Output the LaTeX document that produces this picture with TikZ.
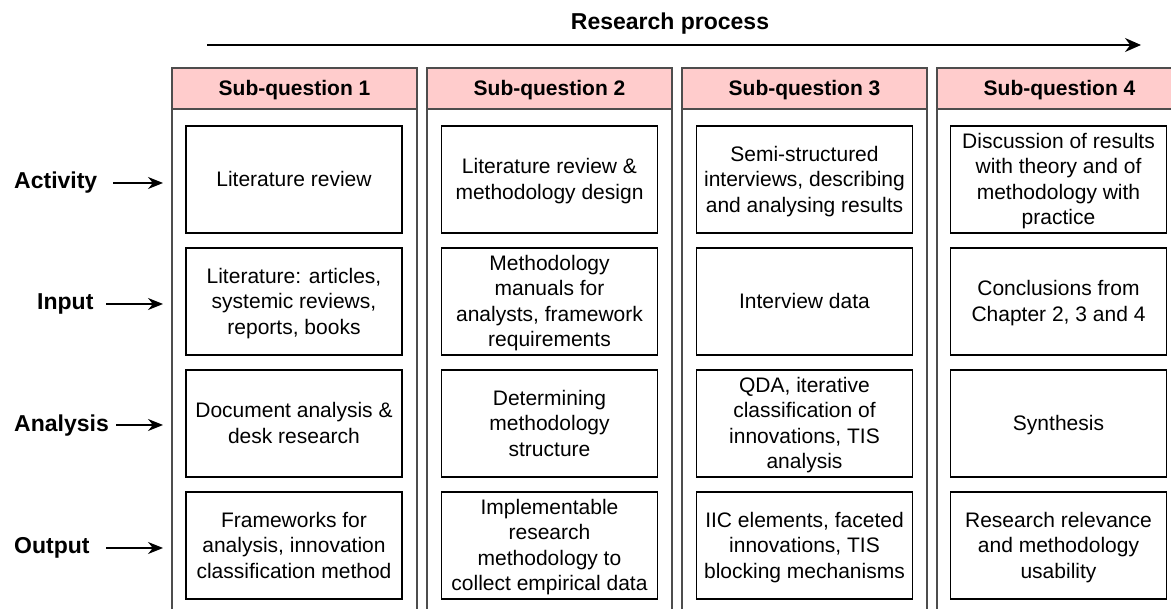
\documentclass[tikz,border=0pt]{standalone}
\usepackage{fontspec}
\setmainfont{Liberation Sans}
\usepackage{array}
\usepackage{tikz}
\usetikzlibrary{positioning, arrows.meta}

\definecolor{headpink}{HTML}{FFCCCC}
\definecolor{colgray}{HTML}{4D4D4D}

% one line box of 25.5pt, baseline 19.9pt below its top
\newcommand{\linestrut}{\rule[-5.6pt]{0pt}{25.5pt}}
\newcommand{\lns}[1]{\begin{tabular}{@{}>{\linestrut}c@{}}#1\end{tabular}}
\renewcommand{\arraystretch}{0.2}

\tikzset{
    column/.style={draw=colgray, line width=2pt},
    header/.style={draw=colgray, line width=2pt, fill=headpink, minimum width=245pt, minimum height=41pt, inner sep=0pt, font=\fontsize{21}{25.5}\selectfont\bfseries},
    stagebox/.style={draw=black, line width=1.4pt, minimum width=216pt, minimum height=107pt, inner sep=0pt, font=\fontsize{21}{25.5}\selectfont},
    rowlabel/.style={anchor=west, inner sep=0pt, font=\fontsize{23}{27}\selectfont\bfseries},
    rowarrow/.style={-{Stealth[length=15pt, width=12pt]}, line width=1.3pt},
}

\begin{document}
\begin{tikzpicture}[x=1pt, y=-1pt, >=Stealth]

        \useasboundingbox (0, 0) rectangle (1171, 609);
        \clip (0, 0) rectangle (1171, 609);

        % research process arrow
        \node[font=\fontsize{23}{27}\selectfont\bfseries] (title) at (670, 24) {Research process};
        \coordinate (ps) at (207, 45);
        \coordinate (pe) at (1141, 45);
        \draw[-{Stealth[length=16pt, width=14pt]}, line width=1.4pt] (ps) -- (pe);

        % columns
        \draw[column] (172, 68) rectangle (417, 640);
        \draw[column] (427, 68) rectangle (672, 640);
        \draw[column] (682, 68) rectangle (927, 640);
        \draw[column] (937, 68) rectangle (1182, 640);

        \node[header] (h1) at (294.5, 88.5) {\lns{Sub-question 1}};
        \node[header] (h2) at (549.5, 88.5) {\lns{Sub-question 2}};
        \node[header] (h3) at (804.5, 88.5) {\lns{Sub-question 3}};
        \node[header] (h4) at (1059.5, 88.5) {\lns{Sub-question 4}};

        % sub-question 1
        \node[stagebox] (act1) at (294, 179.5) {\lns{Literature review}};
        \node[stagebox] (inp1) at (294, 301.5) {\lns{Literature: articles,\\systemic reviews,\\reports, books}};
        \node[stagebox] (ana1) at (294, 423.5) {\lns{Document analysis \&\\desk research}};
        \node[stagebox] (out1) at (294, 545.5) {\lns{Frameworks for\\analysis, innovation\\classification method}};

        % sub-question 2
        \node[stagebox] (act2) at (549.5, 179.5) {\lns{Literature review \&\\methodology design}};
        \node[stagebox] (inp2) at (549.5, 301.5) {\lns{Methodology\\manuals for\\analysts, framework\\requirements}};
        \node[stagebox] (ana2) at (549.5, 423.5) {\lns{Determining\\methodology\\structure}};
        \node[stagebox] (out2) at (549.5, 545.5) {\lns{Implementable\\research\\methodology to\\collect empirical data}};

        % sub-question 3
        \node[stagebox] (act3) at (804.5, 179.5) {\lns{Semi-structured\\interviews, describing\\and analysing results}};
        \node[stagebox] (inp3) at (804.5, 301.5) {\lns{Interview data}};
        \node[stagebox] (ana3) at (804.5, 423.5) {\lns{QDA, iterative\\classification of\\innovations, TIS\\analysis}};
        \node[stagebox] (out3) at (804.5, 545.5) {\lns{IIC elements, faceted\\innovations, TIS\\blocking mechanisms}};

        % sub-question 4
        \node[stagebox] (act4) at (1058.5, 179.5) {\lns{Discussion of results\\with theory and of\\methodology with\\practice}};
        \node[stagebox] (inp4) at (1058.5, 301.5) {\lns{Conclusions from\\Chapter 2, 3 and 4}};
        \node[stagebox] (ana4) at (1058.5, 423.5) {\lns{Synthesis}};
        \node[stagebox] (out4) at (1058.5, 545.5) {\lns{Research relevance\\and methodology\\usability}};

        % row labels
        \node[rowlabel] (lact) at (14, 183) {Activity};
        \node[rowlabel] (linp) at (37, 304) {Input};
        \node[rowlabel] (lana) at (14, 426) {Analysis};
        \node[rowlabel] (lout) at (14, 548) {Output};

        \coordinate (s1) at (113, 183);
        \coordinate (e1) at (163, 183);
        \coordinate (s2) at (106, 304);
        \coordinate (e2) at (163, 304);
        \coordinate (s3) at (116, 425);
        \coordinate (e3) at (163, 425);
        \coordinate (s4) at (106, 548);
        \coordinate (e4) at (163, 548);

        \draw[rowarrow] (s1) -- (e1);
        \draw[rowarrow] (s2) -- (e2);
        \draw[rowarrow] (s3) -- (e3);
        \draw[rowarrow] (s4) -- (e4);
      \end{tikzpicture}
\end{document}
